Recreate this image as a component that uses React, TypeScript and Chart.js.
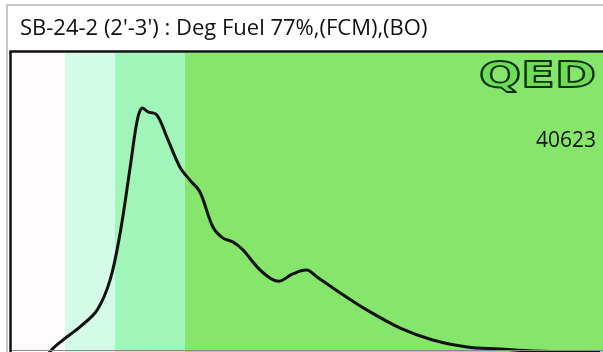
import React, { useEffect, useRef } from "react";
import { Chart, registerables } from "chart.js";

Chart.register(...registerables);

const titleText = "SB-24-2 (2'-3') : Deg Fuel 77%,(FCM),(BO)";
const sampleId = "40623";
const logoText = "QED";

// x positions (0-100 span of the plot) and relative response values
const xValues = [4.7, 6.4, 8.6, 11.5, 14.4, 16.6, 18.3, 20.0, 21.2, 22.0, 23.0, 24.5, 26.2, 28.4, 30.1, 31.8, 34.0, 35.7, 37.4, 39.1, 41.5, 43.7, 45.3, 47.5, 49.9, 51.6, 54.3, 60.1, 65.7, 71.2, 77.0, 82.6, 88.2, 99.5];
const yValues = [-6, 0, 4.0, 8.4, 14.0, 24.1, 39.8, 61.9, 77.6, 81.6, 80.3, 79.3, 71.9, 61.9, 57.5, 53.5, 41.8, 38.1, 36.8, 34.1, 28.4, 24.7, 23.7, 26.1, 27.4, 25.1, 21.4, 14.0, 8.0, 4.0, 1.7, 1.0, 0.3, 0];

// shaded bands: start/end along x, colours
const bandStarts = [0, 8.97, 17.43, 29.27];
const bandEnds = [8.97, 17.43, 29.27, 100];
const bandColors = ["#fefcfc", "#d4fbe8", "#a0f5b8", "#86e66b"];

export default function App() {
  const ref = useRef<HTMLCanvasElement | null>(null);

  useEffect(() => {
    const canvas = ref.current;
    if (!canvas) return;

    const decor = {
      id: "decor",
      beforeDraw(chart: any) {
        const ctx = chart.ctx;
        ctx.save();
        ctx.fillStyle = "#ffffff";
        ctx.fillRect(0, 0, chart.width, chart.height);
        // outer grey frame
        ctx.strokeStyle = "#c8c8c8";
        ctx.lineWidth = 2;
        ctx.beginPath();
        ctx.moveTo(7, chart.height);
        ctx.lineTo(7, 5);
        ctx.lineTo(chart.width, 5);
        ctx.stroke();
        // title
        ctx.fillStyle = "#111111";
        ctx.font = "22px 'Open Sans'";
        ctx.textBaseline = "alphabetic";
        ctx.textAlign = "left";
        ctx.fillText(titleText, 20, 35);
        ctx.restore();
      },
      beforeDatasetsDraw(chart: any) {
        const ctx = chart.ctx;
        const { top, bottom } = chart.chartArea;
        const xs = chart.scales.x;
        ctx.save();
        for (let i = 0; i < bandStarts.length; i++) {
          const x0 = xs.getPixelForValue(bandStarts[i]);
          const x1 = xs.getPixelForValue(bandEnds[i]);
          ctx.fillStyle = bandColors[i];
          ctx.fillRect(x0, top, x1 - x0, bottom - top);
        }
        // logo
        const xR = xs.getPixelForValue(100) - 7;
        ctx.font = "bold 36px 'DejaVu Sans'";
        const w = ctx.measureText(logoText).width;
        const sx = 117 / w;
        ctx.save();
        ctx.translate(xR - 117, top + 34);
        ctx.scale(sx, 1.0);
        ctx.textAlign = "left";
        ctx.textBaseline = "alphabetic";
        ctx.lineJoin = "round";
        ctx.fillStyle = "#6fdc56";
        ctx.fillText(logoText, 0, 0);
        ctx.strokeStyle = "#0b2e0c";
        ctx.lineWidth = 1.8;
        ctx.strokeText(logoText, 0, 0);
        ctx.restore();
        // sample id
        ctx.fillStyle = "#111111";
        ctx.font = "21px 'Open Sans'";
        ctx.textAlign = "right";
        ctx.textBaseline = "alphabetic";
        ctx.fillText(sampleId, xR, top + 94);
        ctx.restore();
      },
      afterDatasetsDraw(chart: any) {
        const ctx = chart.ctx;
        const { left, top, right, bottom } = chart.chartArea;
        ctx.save();
        ctx.strokeStyle = "#8a8a8a";
        ctx.lineWidth = 1;
        ctx.beginPath();
        ctx.moveTo(left, bottom - 1.5);
        ctx.lineTo(right, bottom - 1.5);
        ctx.stroke();
        ctx.strokeStyle = "#111111";
        ctx.lineWidth = 2.5;
        ctx.beginPath();
        ctx.moveTo(left - 1.5, bottom);
        ctx.lineTo(left - 1.5, top - 1.5);
        ctx.lineTo(right, top - 1.5);
        ctx.stroke();
        ctx.restore();
      },
    };

    const chart = new Chart(canvas, {
      type: "line",
      data: {
        datasets: [
          {
            data: xValues.map((x, i) => ({ x, y: yValues[i] })),
            borderColor: "#111111",
            borderWidth: 3,
            pointRadius: 0,
            fill: false,
            tension: 0.35,
            borderJoinStyle: "round",
            clip: 0,
          } as any,
        ],
      },
      options: {
        animation: false,
        responsive: false,
        maintainAspectRatio: false,
        layout: { padding: { left: 12, top: 53, right: 0, bottom: 0 } },
        plugins: {
          legend: { display: false },
          title: { display: false },
          tooltip: { enabled: false },
        },
        scales: {
          x: { type: "linear", min: 0, max: 100, display: false },
          y: { type: "linear", min: 0, max: 100, display: false },
        },
      },
      plugins: [decor],
    });
    return () => chart.destroy();
  }, []);

  return (
    <div style={{ position: "fixed", left: 0, top: 0, width: 603, height: 352, background: "#fff" }}>
      <canvas ref={ref} width={603} height={352} style={{ display: "block" }} />
    </div>
  );
}
